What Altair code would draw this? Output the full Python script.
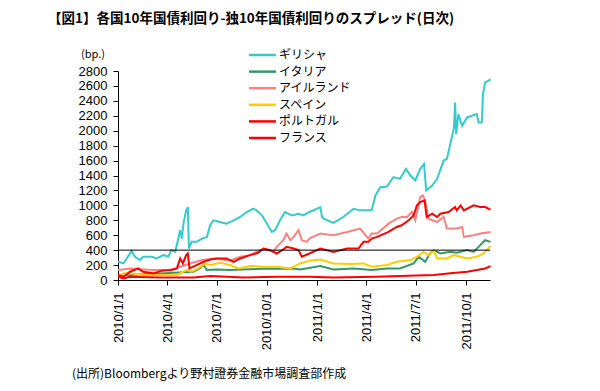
import altair as alt
import pandas as pd

JP = "Noto Sans CJK JP"
NUM = "Liberation Sans"

title_text = "【図1】各国10年国債利回り-独10年国債利回りのスプレッド(日次)"
unit_text = "(bp.)"
source_text = "(出所)Bloombergより野村證券金融市場調査部作成"

names = ["ギリシャ", "イタリア", "アイルランド", "スペイン", "ポルトガル", "フランス"]
colors = ["#33CCCC", "#339966", "#FF8080", "#FFCC00", "#FF0000", "#FF0000"]

greece_dates = ["2010-01-01", "2010-01-11", "2010-01-26", "2010-02-01", "2010-02-10", "2010-02-16",
                "2010-03-04", "2010-03-13", "2010-03-25", "2010-04-03", "2010-04-09", "2010-04-16",
                "2010-04-25", "2010-04-28", "2010-05-01", "2010-05-06", "2010-05-09", "2010-05-11",
                "2010-05-16", "2010-05-25", "2010-06-04", "2010-06-13", "2010-06-19", "2010-06-25",
                "2010-07-07", "2010-07-19", "2010-08-01", "2010-08-13", "2010-08-25", "2010-09-06",
                "2010-09-12", "2010-09-22", "2010-10-01", "2010-10-10", "2010-10-16", "2010-10-25",
                "2010-11-03", "2010-11-16", "2010-11-28", "2010-12-07", "2010-12-18", "2011-01-07",
                "2011-01-10", "2011-01-13", "2011-01-31", "2011-02-18", "2011-03-09", "2011-03-21",
                "2011-04-11", "2011-04-18", "2011-04-27", "2011-05-09", "2011-05-21", "2011-06-02",
                "2011-06-13", "2011-06-21", "2011-06-30", "2011-07-09", "2011-07-16", "2011-07-20",
                "2011-07-31", "2011-08-09", "2011-08-21", "2011-08-27", "2011-09-05", "2011-09-09",
                "2011-09-11", "2011-09-13", "2011-09-17", "2011-09-24", "2011-10-03", "2011-10-21",
                "2011-10-24", "2011-10-30", "2011-11-01", "2011-11-05", "2011-11-15"]
greece_vals = [244, 222, 391, 311, 267, 311,
               311, 289, 333, 311, 400, 378,
               667, 555, 755, 933, 977, 422,
               511, 511, 555, 577, 733, 800,
               777, 755, 800, 844, 911, 955,
               933, 866, 755, 644, 667, 800,
               911, 866, 888, 866, 911, 977,
               844, 822, 764, 844, 955, 933,
               933, 1133, 1244, 1253, 1378, 1355,
               1489, 1400, 1333, 1489, 1555, 1200,
               1266, 1355, 1600, 1622, 1911, 2044,
               2378, 1955, 2222, 2066, 2178, 2222,
               2111, 2111, 2489, 2644, 2689]

italy_dates = ["2010-01-01", "2010-01-23", "2010-05-19", "2010-05-31", "2010-06-07", "2010-06-13",
               "2010-07-01", "2010-07-25", "2010-09-25", "2010-11-19", "2010-12-01", "2011-01-07",
               "2011-01-31", "2011-03-09", "2011-04-11", "2011-05-09", "2011-06-02", "2011-06-27",
               "2011-07-06", "2011-07-18", "2011-07-27", "2011-08-03", "2011-08-15", "2011-09-02",
               "2011-09-14", "2011-10-03", "2011-10-15", "2011-10-24", "2011-11-05", "2011-11-15"]
italy_vals = [44, 67, 111, 155, 200, 133,
              142, 133, 151, 155, 142, 187,
              142, 155, 133, 155, 155, 222,
              311, 244, 355, 400, 355, 377,
              364, 400, 377, 444, 533, 511]

ireland_dates = ["2010-01-01", "2010-01-23", "2010-02-10", "2010-03-07", "2010-04-03", "2010-04-16",
                 "2010-05-04", "2010-05-13", "2010-06-04", "2010-07-01", "2010-07-25", "2010-08-13",
                 "2010-08-31", "2010-09-25", "2010-10-13", "2010-10-19", "2010-10-31", "2010-11-06",
                 "2010-11-13", "2010-11-19", "2010-11-28", "2010-12-04", "2010-12-13", "2010-12-19",
                 "2011-01-07", "2011-01-31", "2011-02-25", "2011-03-21", "2011-04-05", "2011-04-11",
                 "2011-04-21", "2011-05-12", "2011-05-27", "2011-06-05", "2011-06-15", "2011-06-24",
                 "2011-06-30", "2011-07-09", "2011-07-14", "2011-07-18", "2011-07-24", "2011-08-09",
                 "2011-08-21", "2011-08-27", "2011-09-14", "2011-09-24", "2011-09-27", "2011-10-15",
                 "2011-10-27", "2011-11-15"]
ireland_vals = [133, 155, 145, 133, 133, 155,
                200, 222, 267, 289, 258, 311,
                333, 422, 377, 444, 533, 622,
                533, 578, 667, 533, 511, 560,
                622, 600, 644, 689, 555, 622,
                622, 755, 822, 844, 844, 911,
                800, 1111, 1133, 1066, 822, 777,
                844, 689, 689, 711, 578, 600,
                622, 644]

spain_dates = ["2010-01-01", "2010-01-11", "2010-01-23", "2010-02-16", "2010-04-19", "2010-05-07",
               "2010-05-16", "2010-05-28", "2010-06-10", "2010-06-19", "2010-07-07", "2010-07-25",
               "2010-08-10", "2010-08-31", "2010-09-25", "2010-10-19", "2010-11-13", "2010-12-01",
               "2010-12-18", "2011-01-07", "2011-01-31", "2011-03-03", "2011-03-27", "2011-04-11",
               "2011-05-09", "2011-05-27", "2011-06-21", "2011-07-03", "2011-07-15", "2011-07-24",
               "2011-08-03", "2011-08-09", "2011-08-27", "2011-09-08", "2011-10-03", "2011-10-21",
               "2011-11-02", "2011-11-15"]
spain_vals = [44, 89, 89, 67, 67, 133,
              111, 155, 222, 200, 231, 200,
              155, 187, 178, 178, 155, 222,
              258, 275, 222, 213, 222, 178,
              200, 244, 267, 311, 377, 333,
              400, 289, 289, 333, 289, 311,
              355, 453]

portugal_dates = ["2010-01-01", "2010-01-11", "2010-01-23", "2010-02-07", "2010-02-16", "2010-03-07",
                  "2010-03-22", "2010-04-09", "2010-04-19", "2010-04-25", "2010-04-30", "2010-05-06",
                  "2010-05-09", "2010-05-12", "2010-05-25", "2010-06-07", "2010-06-19", "2010-07-01",
                  "2010-07-19", "2010-08-01", "2010-08-13", "2010-08-31", "2010-09-15", "2010-09-25",
                  "2010-10-07", "2010-10-19", "2010-10-31", "2010-11-06", "2010-11-19", "2010-11-28",
                  "2010-12-04", "2010-12-18", "2011-01-07", "2011-01-31", "2011-02-25", "2011-03-18",
                  "2011-03-27", "2011-04-05", "2011-04-11", "2011-04-21", "2011-05-12", "2011-05-27",
                  "2011-06-05", "2011-06-18", "2011-06-27", "2011-07-03", "2011-07-09", "2011-07-17",
                  "2011-07-21", "2011-07-31", "2011-08-09", "2011-08-15", "2011-08-30", "2011-09-11",
                  "2011-09-14", "2011-09-21", "2011-09-27", "2011-10-15", "2011-10-27", "2011-11-05",
                  "2011-11-15"]
portugal_vals = [67, 44, 111, 155, 111, 89,
                 124, 133, 155, 289, 222, 333,
                 355, 155, 200, 244, 275, 289,
                 289, 244, 289, 333, 364, 422,
                 400, 355, 409, 444, 422, 400,
                 311, 355, 422, 377, 422, 422,
                 511, 511, 555, 578, 644, 711,
                 733, 800, 866, 1000, 1044, 1066,
                 844, 888, 844, 888, 911, 977,
                 933, 1000, 933, 1000, 977, 977,
                 942]

france_dates = ["2010-01-01", "2010-01-11", "2010-01-23", "2010-03-19", "2010-05-19", "2010-06-19",
                "2010-08-19", "2010-10-19", "2010-12-18", "2011-01-31", "2011-04-18", "2011-06-02",
                "2011-08-03", "2011-09-02", "2011-10-03", "2011-10-21", "2011-11-05", "2011-11-15"]
france_vals = [44, 22, 44, 35, 35, 53,
               35, 44, 44, 35, 44, 53,
               67, 89, 111, 133, 155, 187]

x_ticks = [(2010, 1), (2010, 4), (2010, 7), (2010, 10), (2011, 1), (2011, 4), (2011, 7), (2011, 10)]
y_ticks = list(range(0, 2801, 200))
ref_level = [400]

series = [
    (names[0], greece_dates, greece_vals),
    (names[1], italy_dates, italy_vals),
    (names[2], ireland_dates, ireland_vals),
    (names[3], spain_dates, spain_vals),
    (names[4], portugal_dates, portugal_vals),
    (names[5], france_dates, france_vals),
]
rows = []
for i, (n, ds, vs) in enumerate(series):
    for d, v in zip(ds, vs):
        rows.append({"name": n, "ord": i, "date": d, "value": v})
df = pd.DataFrame(rows)

color_scale = alt.Scale(domain=names, range=colors)
y_axis = alt.Axis(values=y_ticks, format="d", tickSize=5, labelPadding=6, title=None,
                  grid=False, labelFont=NUM, labelFontSize=13, labelFlush=False,
                  labelOverlap=False, labelBound=False, tickCount=15)
y_scale = alt.Scale(domain=[0, 2800], nice=False)

lines = alt.Chart(df).mark_line(strokeWidth=2).encode(
    x=alt.X("date:T",
            scale=alt.Scale(domain=[alt.DateTime(year=2010, month=1, date=1),
                                    alt.DateTime(year=2011, month=11, date=14)]),
            axis=alt.Axis(values=[alt.DateTime(year=y, month=m, date=1) for y, m in x_ticks],
                          format="%Y/%-m/%-d", labelAngle=270, labelAlign="right",
                          labelBaseline="middle", labelPadding=7, tickSize=5,
                          labelFlush=False, labelOverlap=False, labelBound=False,
                          title=None, grid=False, labelFont=NUM, labelFontSize=13)),
    y=alt.Y("value:Q", scale=y_scale, axis=y_axis),
    color=alt.Color("name:N", scale=color_scale, legend=None),
    detail="ord:O",
)

rule400 = alt.Chart(pd.DataFrame({"value": ref_level})).mark_rule(color="black", strokeWidth=1).encode(
    y=alt.Y("value:Q", scale=y_scale, axis=y_axis)
)

main = alt.layer(lines, rule400)

leg_df = pd.DataFrame({"name": names})
leg_y = alt.Y("name:N", scale=alt.Scale(type="point", domain=names, range=[-16, 67], padding=0), axis=None)
leg_rules = alt.Chart(leg_df).mark_rule(strokeWidth=2.5).encode(
    x=alt.value(131), x2=alt.value(158), y=leg_y,
    color=alt.Color("name:N", scale=color_scale, legend=None),
)
leg_text = alt.Chart(leg_df).mark_text(align="left", baseline="middle", font=JP, fontSize=12,
                                       color="black").encode(
    x=alt.value(161), y=leg_y, text="name:N"
)
legend = alt.layer(leg_rules, leg_text)

title = alt.Chart(pd.DataFrame({"t": [title_text]})).mark_text(
    align="left", baseline="middle", font=JP, fontSize=13.5, fontWeight="bold", color="black"
).encode(x=alt.value(-70), y=alt.value(-52), text="t:N")
unit = alt.Chart(pd.DataFrame({"t": [unit_text]})).mark_text(
    align="left", baseline="middle", font=JP, fontSize=11, color="black"
).encode(x=alt.value(-37), y=alt.value(-16), text="t:N")
source = alt.Chart(pd.DataFrame({"t": [source_text]})).mark_text(
    align="left", baseline="middle", font=JP, fontSize=12, color="black"
).encode(x=alt.value(-46), y=alt.value(303), text="t:N")

chart = alt.layer(main, legend, title, unit, source).resolve_scale(
    y="independent", color="shared"
).properties(
    width=372, height=209,
    autosize=alt.AutoSizeParams(type="none"),
    padding={"left": 110, "top": 63, "right": 94, "bottom": 103},
    background="white",
).configure_view(stroke=None).configure_axis(
    domainColor="black", tickColor="black", labelColor="black"
)

chart.save("out.html", embed_options={"renderer": "svg", "actions": False})
